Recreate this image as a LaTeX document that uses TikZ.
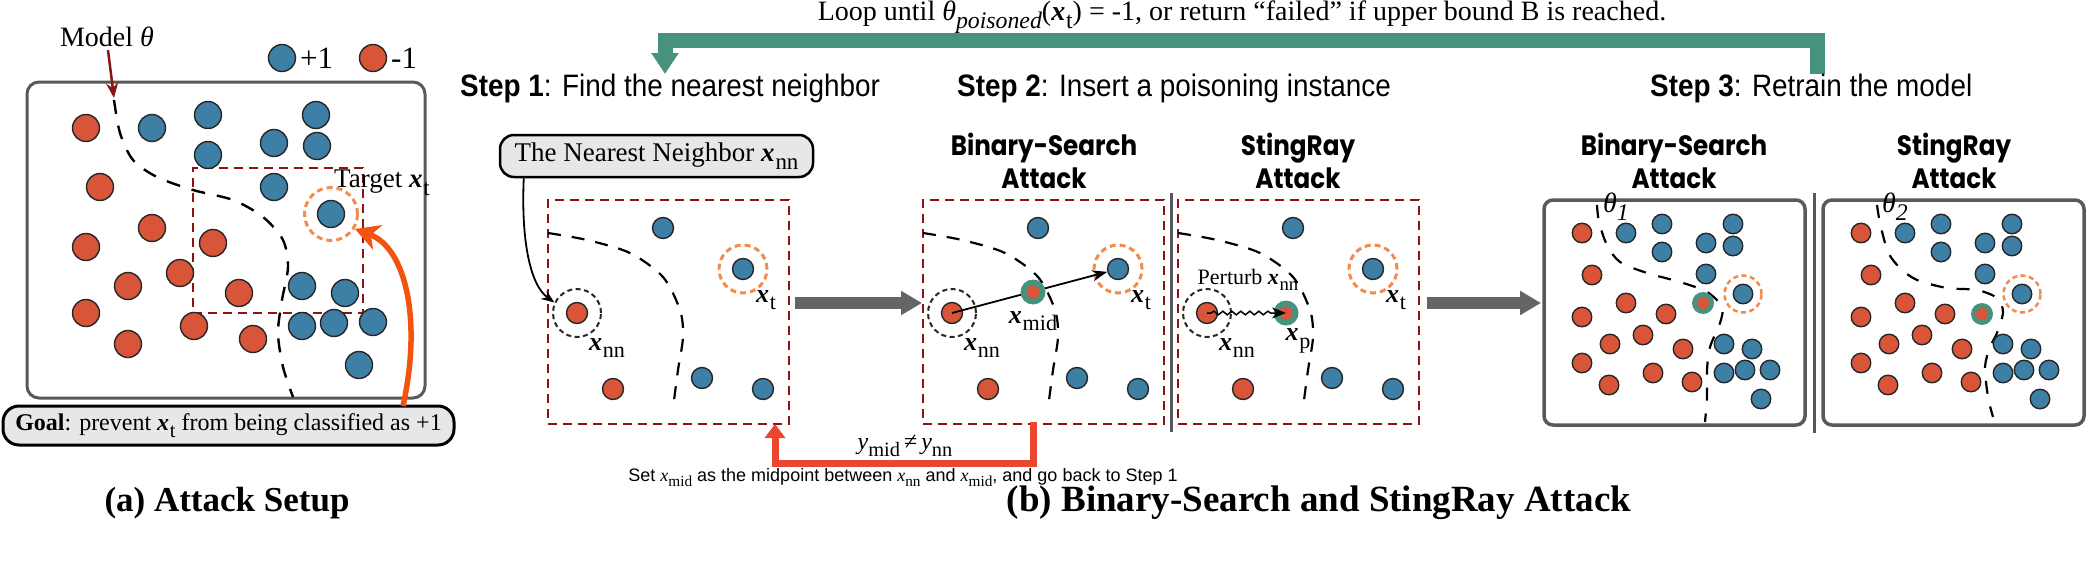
\documentclass[tikz,border=0pt]{standalone}
\usepackage{graphicx}
\usepackage{fontspec}
\setmainfont{Liberation Serif}
\newfontfamily\arialf{Liberation Sans}
\newfontfamily\arialc{Liberation Sans}[FakeStretch=0.9]
\newfontfamily\geof{Poppins}[FakeStretch=0.88]
\usetikzlibrary{arrows.meta,decorations.pathmorphing,calc}
\definecolor{dotred}{HTML}{D9553A}
\definecolor{dotblue}{HTML}{3E7FA6}
\definecolor{tealc}{HTML}{46927F}
\definecolor{ringorange}{HTML}{F28C4B}
\definecolor{darkred}{HTML}{8B1414}
\definecolor{arrowgray}{HTML}{636568}
\definecolor{boxgray}{HTML}{58595B}
\definecolor{bracketred}{HTML}{EA4630}
\definecolor{goalorange}{HTML}{F25410}
\definecolor{goalfill}{HTML}{E6E7E8}
\newcommand\fs[1]{\fontsize{#1}{#1}\selectfont}
\newcommand\bxv[1]{\textbf{\textit{x}}\kern0.03em\raisebox{-0.28em}{\scalebox{0.85}{\mdseries\upshape #1}}}
\newcommand\sbr[1]{\raisebox{-0.28em}{\scalebox{0.85}{#1}}}
\tikzset{
  pdot/.style={circle, draw=black!85, line width=1.4pt, inner sep=0pt},
  rdot/.style={pdot, fill=dotred, minimum size=#1},
  bdot/.style={pdot, fill=dotblue, minimum size=#1},
  nnring/.style={circle, draw=black!85, dash pattern=on 5pt off 3.5pt, line width=2pt, minimum size=48pt, inner sep=0pt},
  orring/.style={circle, draw=ringorange, dash pattern=on 6pt off 4pt, line width=3pt, minimum size=48pt, inner sep=0pt},
  boundary/.style={black, line width=2.2pt, dash pattern=on 13pt off 11pt},
  dashbox/.style={draw=darkred, line width=2.5pt, dash pattern=on 9pt off 6pt, inner sep=0pt},
  panelbox/.style={draw=boxgray, line width=3.5pt, rounded corners=9pt, inner sep=0pt},
  tealring/.style={circle, fill=tealc, inner sep=0pt, minimum size=#1},
  redcore/.style={circle, fill=dotred, inner sep=0pt, minimum size=#1},
  blockarrow/.style={arrowgray, line width=12pt, -{Triangle[length=21pt,width=23pt]}},
  subhead/.style={align=center, font=\geof\bfseries\fontsize{28}{33}\selectfont},
  steptitle/.style={anchor=west, inner sep=0pt, font=\arialc\fontsize{31}{33}\selectfont},
}
\newcommand\smallpanel{%
  \node[dashbox, minimum width=241pt, minimum height=224pt] (box) at (668.5,312) {};
  \draw[boundary] plot[smooth] coordinates {(548,233) (587,240) (630,253) (663,277) (680,310) (683,337) (678,370) (673,408)};
  \node[bdot=21pt] (b1) at (663,228) {};
  \node[bdot=21pt] (t) at (743,269) {};
  \node[orring] (tr) at (743,269) {};
  \node (tl) at (766,300) {\fs{26}\bxv{t}};
  \node[rdot=21pt] (nn) at (577,313) {};
  \node[nnring] (nnr) at (577,313) {};
  \node (nnl) at (607,348) {\fs{26}\bxv{nn}};
  \node[rdot=21pt] (r2) at (613,389) {};
  \node[bdot=21pt] (b2) at (702,378) {};
  \node[bdot=21pt] (b3) at (763,389) {};
}
\newcommand\bigpanel{%
  \node[panelbox, minimum width=261pt, minimum height=225pt] (box) at (1674.5,312.5) {};
  \foreach \x/\y [count=\i] in {1582/233,1592/275,1582/317,1626/303,1610/344,1582/363,1643/335,1666/314,1683/349,1653/373,1609/385,1692/382}
    \node[rdot=19.5pt] (r\i) at (\x,\y) {};
  \foreach \x/\y [count=\i] in {1626/233,1662/224,1662/252,1706/243,1733/224,1733/246,1706/274,1724/344,1752/349,1724/373,1745/370,1770/370,1761/399}
    \node[bdot=19.5pt] (b\i) at (\x,\y) {};
  \node[bdot=19.5pt] (t) at (1743,294) {};
  \node[orring, minimum size=37pt, dash pattern=on 5pt off 3.5pt, line width=2.5pt] (tr) at (1743,294) {};
}
\begin{document}
\begin{tikzpicture}[x=1pt,y=-1pt]
\useasboundingbox (0,0) rectangle (2091,562);

% ---------------- panel (a)
\node[draw=boxgray, line width=3pt, rounded corners=12pt, minimum width=398pt, minimum height=316pt, inner sep=0pt] (pa) at (226,240) {};
\node[dashbox, minimum width=170pt, minimum height=145pt] (parect) at (278,240.5) {};
\draw[boundary, line width=2.4pt, dash pattern=on 14pt off 12pt] plot[smooth] coordinates {(114,100) (120,133) (133,160) (157,177) (193,190) (233,200) (263,217) (283,240) (288,267) (282,300) (278,333) (283,367) (293,397)};
\foreach \x/\y [count=\i] in {86/128,100/187,152/228,86/247,128/286,180/273,86/313,128/344,213/243,239/293,194/326,253/339}
  \node[rdot=27pt] (ar\i) at (\x,\y) {};
\foreach \x/\y [count=\i] in {152/128,208/115,208/155,274/143,316/115,317/146,274/187,302/286,345/293,302/326,334/323,373/322,359/365}
  \node[bdot=27pt] (ab\i) at (\x,\y) {};
\node[bdot=27pt] (at) at (331,214) {};
\node[orring, minimum size=53pt] (atr) at (331,214) {};
\node (atl) at (382,183) {\fs{27}Target \bxv{t}};

% legend
\node[bdot=27pt] (lgb) at (282,58) {};
\node[anchor=west, inner sep=0pt] (lgbt) at (300,58) {\fs{31}+1};
\node[rdot=27pt] (lgr) at (373,58) {};
\node[anchor=west, inner sep=0pt] (lgrt) at (391,58) {\fs{31}-1};

% model label
\node[inner sep=0pt] (model) at (107,37) {\fs{28}Model \textit{θ}};
\coordinate (mtip) at (114,98);
\draw[darkred, line width=2.5pt, -{Stealth[length=15pt,width=12pt]}] ($(model.south)+(1,3)$) -- (mtip);

% goal
\node[draw=black, line width=3pt, fill=goalfill, rounded corners=16pt, minimum width=451pt, minimum height=39pt, inner sep=0pt] (goal) at (228.5,425.5) {\fs{24}\textbf{Goal}: prevent \bxv{t} from being classified as +1};
\coordinate (gstart) at (403,406);
\coordinate (gend) at (355,229);
\draw[goalorange, line width=5.5pt, -{Stealth[length=24pt,width=26pt,inset=7pt]}] (gstart) .. controls (422,320) and (406,248) .. (gend);

\node (titlea) at (227,503) {\fs{35}\bfseries (a) Attack Setup};

% ---------------- top loop
\node (loop) at (1242,17) {\fs{28}Loop until \textit{θ}\sbr{\itshape poisoned}(\bxv{t}) = -1, or return “failed” if upper bound B is reached.};
\coordinate (lr) at (1817,74);
\coordinate (ll) at (665,74);
\draw[tealc, line width=15pt, line join=miter, -{Triangle[length=21pt,width=26pt]}] (lr) -- ++(0,-33.5) -| (ll);

% step titles
\node[steptitle] (s1) at (460,88) {\textbf{Step 1}: Find the nearest neighbor};
\node[steptitle] (s2) at (957,88) {\textbf{Step 2}: Insert a poisoning instance};
\node[steptitle] (s3) at (1650,88) {\textbf{Step 3}: Retrain the model};

\node[subhead] (h2a) at (1044,160.5) {Binary-Search\\Attack};
\node[subhead] (h2b) at (1298,160.5) {StingRay\\Attack};
\node[subhead] (h3a) at (1674,160.5) {Binary-Search\\Attack};
\node[subhead] (h3b) at (1954,160.5) {StingRay\\Attack};

% nearest neighbour box
\node[draw=black, line width=2.5pt, fill=goalfill, rounded corners=14pt, minimum width=313pt, minimum height=42pt, inner sep=0pt] (nnbox) at (656.5,156) {\fs{27}The Nearest Neighbor \bxv{nn}};

% ---------------- step 1 / step 2 panels
\begin{scope}[name prefix=p1-]
  \smallpanel
\end{scope}
\draw[black, line width=1.8pt, -{Stealth[length=13pt,width=10pt]}] ($(nnbox.south west)+(25,0)$) .. controls (521,240) and (530,285) .. (p1-nnr.155);

\begin{scope}[shift={(375,0)}, name prefix=p2-]
  \smallpanel
  \draw[black, line width=1.8pt, -{Stealth[length=15pt,width=11pt]}] (nn.center) -- (t);
  \node[tealring=25pt] (mid) at (658,292) {};
  \node[redcore=13pt] (midc) at (658,292) {};
  \node (midl) at (658,321) {\fs{26}\bxv{mid}};
\end{scope}

\begin{scope}[shift={(630,0)}, name prefix=p3-]
  \smallpanel
  \node[tealring=25pt] (xp) at (656,313) {};
  \node[redcore=13pt] (xpc) at (656,313) {};
  \node (xpl) at (668,341) {\fs{26}\bxv{p}};
  \node (pert) at (618,280) {\fs{22}Perturb \bxv{nn}};
  \draw[black, line width=1.5pt, decorate, decoration={snake, amplitude=1.8pt, segment length=9pt, pre length=4pt, post length=12pt}, -{Stealth[length=14pt,width=11pt]}] (nn.center) -- (xpc.center);
\end{scope}

% separators
\draw[boxgray, line width=3pt] (1171,193) -- (1171,432);
\draw[boxgray, line width=3pt] (1814,193) -- (1814,433);

% block arrows
\coordinate (g1s) at (795,303);
\coordinate (g1e) at (922,303);
\draw[blockarrow] (g1s) -- (g1e);
\coordinate (g2s) at (1427,303);
\coordinate (g2e) at (1541,303);
\draw[blockarrow] (g2s) -- (g2e);

% ---------------- step 3 panels
\begin{scope}[name prefix=q1-]
  \draw[boundary, dash pattern=on 13pt off 13pt] plot[smooth] coordinates {(1597,205) (1599,222) (1607,245) (1620,262) (1647,273) (1680,282) (1707,292) (1722,307) (1720,323) (1710,347) (1707,370) (1707,397) (1705,422)};
  \bigpanel
  \node[tealring=22pt] (ps) at (1703,303) {};
  \node[redcore=12pt] (psc) at (1703,303) {};
  \node (th) at (1616,207) {\fs{28}\textit{θ}\sbr{\itshape 1}};
\end{scope}
\begin{scope}[shift={(279,0)}, name prefix=q2-]
  \draw[boundary, dash pattern=on 13pt off 13pt] plot[smooth] coordinates {(1598,205) (1601,223) (1609,252) (1621,268) (1638,280) (1668,288) (1698,290) (1718,298) (1724,312) (1718,333) (1711,347) (1706,367) (1709,397) (1714,417)};
  \bigpanel
  \node[tealring=22pt] (ps) at (1703,314) {};
  \node[redcore=12pt] (psc) at (1703,314) {};
  \node (th) at (1616,207) {\fs{28}\textit{θ}\sbr{\itshape 2}};
\end{scope}

% ---------------- feedback bracket
\coordinate (brs) at (1033,422);
\coordinate (bre) at (775,424);
\draw[bracketred, line width=7pt, line join=miter, -{Triangle[length=14pt,width=20pt]}] (brs) -- ++(0,41) -| (bre);
\node (neq) at (905,446) {\fs{24}\textit{y}\sbr{mid}\,≠\,\textit{y}\sbr{nn}};
\node (settext) at (903,478) {\arialf\fs{18}Set {\rmfamily\textit{x}\sbr{mid}} as the midpoint between {\rmfamily\textit{x}\sbr{nn}} and {\rmfamily\textit{x}\sbr{mid}}, and go back to Step 1};

\node (titleb) at (1319,503) {\fs{37}\bfseries (b) Binary-Search and StingRay Attack};
\end{tikzpicture}
\end{document}
